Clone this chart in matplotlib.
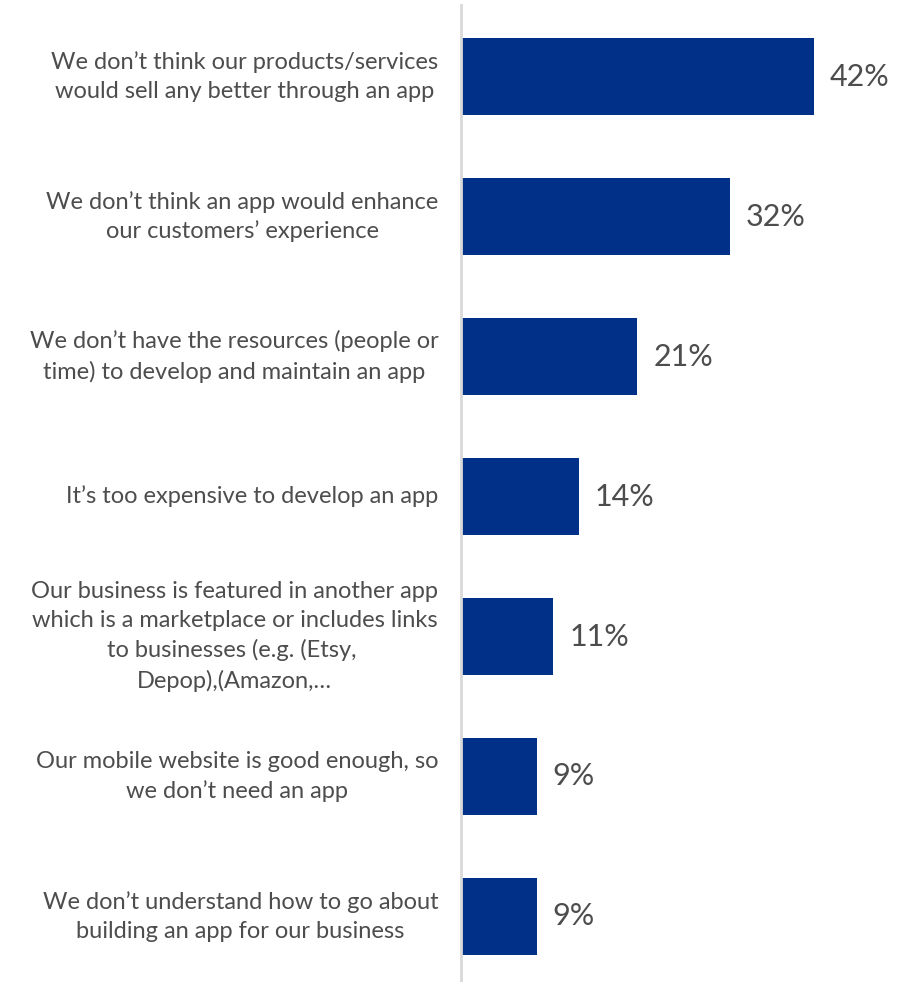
import matplotlib.pyplot as plt
from matplotlib import font_manager

# --------------------------
# Data
# --------------------------
reasons = [
    "We don\u2019t think our products/services\nwould sell any better through an app",
    "We don\u2019t think an app would enhance\nour customers\u2019 experience",
    "We don\u2019t have the resources (people or\ntime) to develop and maintain an app",
    "It\u2019s too expensive to develop an app",
    "Our business is featured in another app\nwhich is a marketplace or includes links\nto businesses (e.g. (Etsy, \nDepop),(Amazon,\u2026",
    "Our mobile website is good enough, so\nwe don\u2019t need an app",
    "We don\u2019t understand how to go about\nbuilding an app for our business",
]
shares = [42, 32, 21, 14, 11, 9, 9]

BAR_COLOR = "#003087"
TEXT_COLOR = "#4d4d4d"

names = {f.name for f in font_manager.fontManager.ttflist}
family = "Lato" if "Lato" in names else "DejaVu Sans"
plt.rcParams["font.family"] = [family, "DejaVu Sans"]

# --------------------------
# Plot
# --------------------------
fig = plt.figure(figsize=(9.17, 9.82), dpi=100)
ax = fig.add_axes([461 / 917, 0.0, 439 / 917, 1 - 5 / 982])

pos = list(range(len(shares)))
ax.barh(pos, shares, height=0.55, color=BAR_COLOR)

ax.set_xlim(0, 439 / 8.4)
ax.set_ylim(6.468, -0.511)

for y, v in zip(pos, shares):
    ax.text(v + 1.9, y, f"{v}%", va="center", ha="left",
            fontsize=22, color=TEXT_COLOR)

for y, label in zip(pos, reasons):
    ax.text(-2.7, y, label, va="center", ha="right", multialignment="center",
            fontsize=17, color=TEXT_COLOR, linespacing=1.45)

for s in ["top", "right", "bottom"]:
    ax.spines[s].set_visible(False)
ax.spines["left"].set_color("#d9d9d9")
ax.spines["left"].set_linewidth(2)
ax.set_xticks([])
ax.set_yticks([])

fig.savefig("out.png", dpi=100)
